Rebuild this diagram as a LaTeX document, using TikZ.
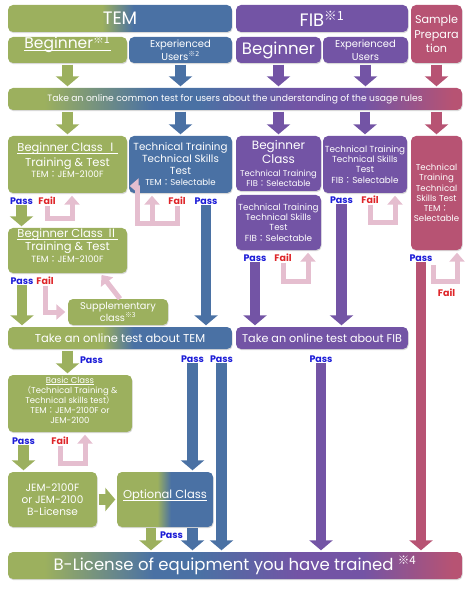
\documentclass[tikz,border=0pt]{standalone}
\usepackage{fontspec}
\setmainfont{Poppins}
\newfontfamily\cjk{Noto Sans CJK JP}
\usetikzlibrary{arrows.meta, shadows}
\definecolor{temgreen}{RGB}{156,176,94}
\definecolor{temblue}{RGB}{74,113,164}
\definecolor{fibpurple}{RGB}{115,84,165}
\definecolor{smppink}{RGB}{183,83,115}
\definecolor{failpink}{RGB}{229,190,207}
\definecolor{passblue}{RGB}{28,28,215}
\definecolor{failred}{RGB}{222,36,40}
\pgfdeclarehorizontalshading{temshade}{100bp}{color(0bp)=(temgreen); color(46bp)=(temgreen); color(53bp)=(temblue); color(100bp)=(temblue)}
\pgfdeclarehorizontalshading{allshade}{100bp}{color(0bp)=(temgreen); color(29bp)=(temgreen); color(41bp)=(temblue); color(46bp)=(temblue); color(57bp)=(fibpurple); color(64bp)=(fibpurple); color(74bp)=(smppink); color(100bp)=(smppink)}
\newcommand{\kome}[1]{\textsuperscript{\cjk ※#1}}
\newcommand{\jc}{{\cjk ：}}
\newcommand{\ul}[1]{\underline{\smash{#1}}}

\begin{document}
\begin{tikzpicture}[x=1pt, y=-1pt,
  box/.style={rounded corners=5pt, text=white, align=center, inner sep=0pt,
    drop shadow={shadow xshift=0.6pt, shadow yshift=-1.2pt, opacity=0.3}},
  dims/.style 2 args={minimum width=#1pt, minimum height=#2pt},
  gbox/.style={box, fill=temgreen},
  bbox/.style={box, fill=temblue},
  pbox/.style={box, fill=fibpurple},
  rbox/.style={box, fill=smppink},
  fat/.style={line width=10.5pt, -{Triangle[width=23pt, length=10pt]}, shorten >=1.5pt},
  failloop/.style={failpink, line width=5pt, -{Triangle[width=15pt, length=9pt]}, shorten >=2.5pt},
  passlbl/.style={text=passblue, font=\fontsize{9.5}{11}\selectfont\bfseries, inner sep=0.5pt},
  faillbl/.style={passlbl, text=failred},
]
  \useasboundingbox (0,0) rectangle (474,593);

  % header rows
  \node[box, shading=temshade, dims={224}{27}, font=\fontsize{18}{20}\selectfont]
    (tem) at (120,18.5) {TEM};
  \node[pbox, dims={172}{27}, font=\fontsize{18}{20}\selectfont]
    (fib) at (322,18.5) {FIB\kome{1}};
  \node[rbox, dims={51}{58}, font=\fontsize{11.2}{14.5}\selectfont]
    (smp) at (436.5,34) {Sample\\Prepara\\tion};
  \node[gbox, dims={119}{26}, font=\fontsize{15.5}{17}\selectfont]
    (tembeg) at (67.5,50) {\ul{Beginner\kome{1}}};
  \node[bbox, dims={103}{26}, font=\fontsize{10}{12.5}\selectfont]
    (temexp) at (180.5,50) {Experienced\\Users\kome{2}};
  \node[pbox, dims={85}{26}, font=\fontsize{16.5}{18}\selectfont]
    (fibbeg) at (278.5,50) {Beginner};
  \node[pbox, dims={85}{26}, font=\fontsize{10}{12.5}\selectfont]
    (fibexp) at (365.5,50) {Experienced\\Users};

  % common test
  \node[box, shading=allshade, dims={454}{22}, font=\fontsize{9.2}{10}\selectfont]
    (cmn) at (235,99) {Take an online common test for users about the understanding of the usage rules};

  % training boxes
  \node[gbox, dims={119}{57}, font=\fontsize{11.5}{13.5}\selectfont] (bc1) at (67.5,164.5)
    {\ul{Beginner Class {\cjk Ⅰ}}\\[1pt]Training \& Test\\[-2.5pt]{\fontsize{9}{9}\selectfont TEM\jc JEM-2100F}};
  \node[bbox, dims={103}{57}, font=\fontsize{10.3}{12}\selectfont] (tt1) at (180.5,164.5)
    {Technical Training\\Technical Skills\\Test\\[-1pt]{\fontsize{8.6}{9}\selectfont TEM\jc Selectable}};
  \node[pbox, dims={85}{55}, font=\fontsize{12}{14}\selectfont] (fbc) at (278.5,163.5)
    {Beginner\\Class\\[-1.5pt]{\fontsize{8.4}{9}\selectfont Technical Training}\\[-4pt]{\fontsize{8.4}{9}\selectfont FIB\jc Selectable}};
  \node[pbox, dims={85}{55}, font=\fontsize{8.8}{10.2}\selectfont] (ftt1) at (278.5,222.5)
    {Technical Training\\Technical Skills\\Test\\FIB\jc Selectable};
  \node[pbox, dims={84}{57}, font=\fontsize{8.8}{10.2}\selectfont] (ftt2) at (365,164.5)
    {Technical Training\\Technical Skills\\Test\\FIB\jc Selectable};
  \node[rbox, dims={51}{114}, font=\fontsize{8.6}{10.3}\selectfont] (stt) at (436.5,193)
    {Technical\\Training\\Technical\\Skills Test\\TEM\jc\\Selectable};
  \node[gbox, dims={119}{45}, font=\fontsize{11.5}{12.5}\selectfont] (bc2) at (67.5,250.5)
    {\ul{Beginner Class {\cjk Ⅱ}}\\Training \& Test\\{\fontsize{9}{9}\selectfont TEM\jc JEM-2100F}};
  \node[gbox, dims={100}{26}, font=\fontsize{9.8}{12}\selectfont] (supp) at (118,312)
    {Supplementary\\class\kome{3}};

  % online tests
  \node[box, shading=temshade, dims={224}{22}, font=\fontsize{11.5}{12}\selectfont]
    (temtest) at (120,338) {Take an online test about TEM};
  \node[pbox, dims={172}{22}, font=\fontsize{11.2}{12}\selectfont]
    (fibtest) at (322,338) {Take an online test about FIB};

  % TEM beginner track
  \node[gbox, dims={124}{57}, font=\fontsize{8.5}{10.2}\selectfont] (basic) at (70,403.5)
    {\ul{Basic Class}\\{\cjk （}Technical Training \&\\Technical skills test{\cjk ）}\\TEM\jc JEM-2100F or\\JEM-2100};
  \node[gbox, dims={89}{55}, font=\fontsize{10.5}{12}\selectfont] (jem) at (52.5,499.5)
    {JEM-2100F\\or JEM-2100\\B-License};
  \node[box, shading=temshade, dims={96}{55}, font=\fontsize{11.5}{12}\selectfont]
    (opt) at (165,499.5) {\ul{Optional Class}};

  % licence
  \node[box, shading=allshade, dims={454}{27}, font=\fontsize{16.5}{18}\selectfont]
    (lic) at (235,565.5) {B-License of equipment you have trained \kome{4}};

  % pass / fail labels
  \node[passlbl] (p1) at (21.5,201) {Pass};
  \node[faillbl] (f1) at (47,201) {Fail};
  \node[faillbl] (f2) at (177,201) {Fail};
  \node[passlbl] (p2) at (206,201) {Pass};
  \node[passlbl] (p5) at (341.5,200) {Pass};
  \node[faillbl] (f5) at (370,200) {Fail};
  \node[passlbl] (p4) at (255,258) {Pass};
  \node[faillbl] (f4) at (283,258) {Fail};
  \node[passlbl] (p6) at (421,258) {Pass};
  \node[faillbl] (f6) at (446.5,293) {Fail};
  \node[passlbl] (p3) at (22,281) {Pass};
  \node[faillbl] (f3) at (45,281) {Fail};
  \node[passlbl] (p7) at (91.5,360) {Pass};
  \node[passlbl] (p8) at (192.5,359) {Pass};
  \node[passlbl] (p9) at (221.5,359) {Pass};
  \node[passlbl] (p10) at (321,359) {Pass};
  \node[passlbl] (p11) at (23.5,441) {Pass};
  \node[faillbl] (f7) at (60,441) {Fail};

  % arrows into and out of the common test
  \foreach \n/\c in {tembeg/temgreen, temexp/temblue, fibbeg/fibpurple, fibexp/fibpurple, smp/smppink}
    \draw[fat, \c, shorten <=1.5pt] (\n.south) -- (\n.south |- cmn.north);
  \foreach \n/\c in {bc1/temgreen, tt1/temblue, fbc/fibpurple, ftt2/fibpurple, stt/smppink}
    \draw[fat, \c, shorten <=1.5pt] (cmn.south -| \n.north) -- (\n.north);

  % pass arrows
  \draw[fat, temgreen] (p1.south) -- (p1.south |- bc2.north);
  \draw[fat, temblue] (p2.south) -- (p2.south |- temtest.north);
  \draw[fat, temgreen] (p3.south) -- (p3.south |- temtest.north);
  \draw[fat, fibpurple] (p4.south) -- (p4.south |- fibtest.north);
  \draw[fat, fibpurple] (p5.south) -- (p5.south |- fibtest.north);
  \draw[fat, smppink] (p6.south) -- (p6.south |- lic.north);
  \draw[fat, temgreen, shorten <=1.5pt] (temtest.south -| bc1.south) -- (bc1.south |- basic.north);
  \draw[fat, temblue] (p8.south) -- (p8.south |- opt.north);
  \draw[fat, temblue] (p9.south) -- (p9.south |- lic.north);
  \draw[fat, fibpurple] (p10.south) -- (p10.south |- lic.north);
  \draw[fat, temgreen] (p11.south) -- (p11.south |- jem.north);
  \draw[fat, temgreen, shorten <=1.5pt] (jem.east) -- (opt.west);
  \coordinate (og) at (151,0);
  \draw[fat, temgreen, shorten <=1pt] (opt.south -| og) -- (lic.north -| og);
  \draw[fat, temblue, shorten <=1pt] (opt.south -| p8) -- (lic.north -| p8);
  \node[passlbl, fill=white, inner sep=1.5pt] (p12) at (171.5,535.5) {Pass};

  % fail loops
  \coordinate (c1) at (72,219);
  \draw[failloop] (f1.south) |- (c1) -- (c1 |- bc1.south);
  \coordinate (c2) at (137,224);
  \coordinate (c2t) at (137,186);
  \draw[failloop] (f2.south) |- (c2) -- (c2t) -- (c2t -| bc1.east);
  \coordinate (c2b) at (152,226.5);
  \draw[failloop] (c2b) -- (c2b |- tt1.south);
  \draw[failloop] (f3.south) |- (supp.west);
  \coordinate (c3) at (100,273);
  \draw[failloop] ([xshift=2pt]supp.north) -- (c3);
  \coordinate (c4) at (308,281);
  \draw[failloop] (f4.south) |- (c4) -- (c4 |- ftt1.south);
  \coordinate (c5) at (395,223);
  \draw[failloop] (f5.south) |- (c5) -- (c5 |- ftt2.south);
  \coordinate (c6a) at (433,265);
  \coordinate (c6) at (457,281);
  \draw[failloop] (c6a) |- (c6) -- (c6 |- stt.south);
  \coordinate (c7) at (85,463);
  \draw[failloop] (f7.south) |- (c7) -- (c7 |- basic.south);
\end{tikzpicture}
\end{document}
